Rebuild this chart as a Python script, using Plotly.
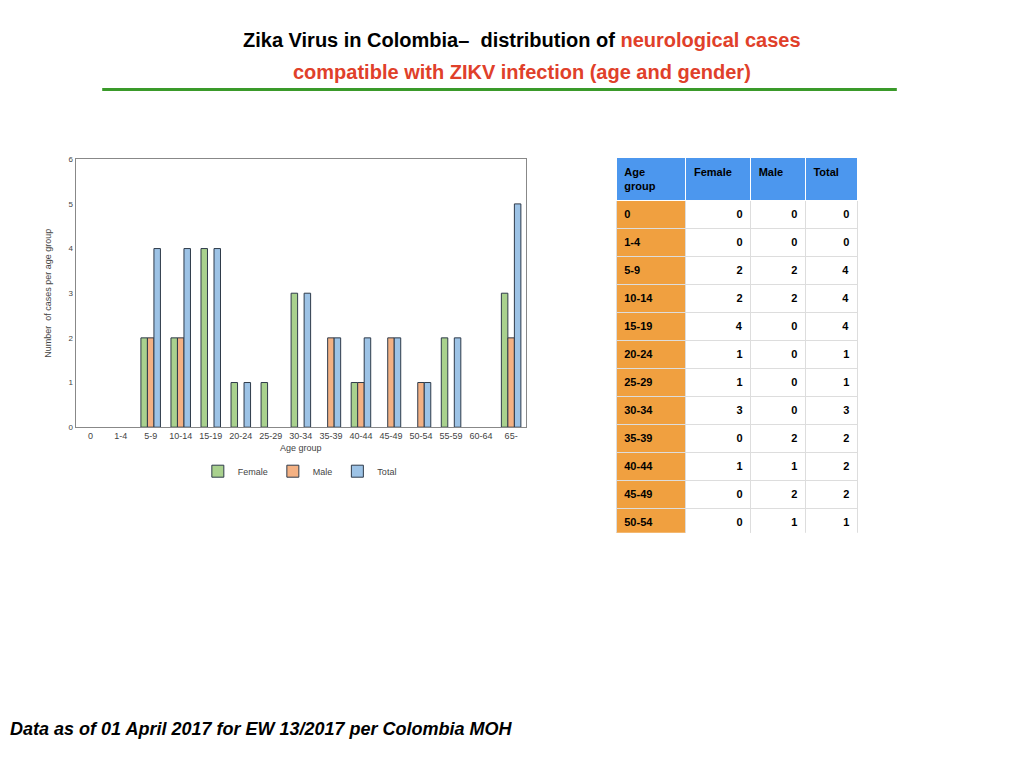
import plotly.graph_objects as go

age_groups = ["0", "1-4", "5-9", "10-14", "15-19", "20-24", "25-29", "30-34",
              "35-39", "40-44", "45-49", "50-54", "55-59", "60-64", "65-"]
female = [0, 0, 2, 2, 4, 1, 1, 3, 0, 1, 0, 0, 2, 0, 3]
male = [0, 0, 2, 2, 0, 0, 0, 0, 2, 1, 2, 1, 0, 0, 2]
total = [0, 0, 4, 4, 4, 1, 1, 3, 2, 2, 2, 1, 2, 0, 5]
# bars as drawn in the chart (no Total bar for 25-29)
chart_total = [0, 0, 4, 4, 4, 1, 0, 3, 2, 2, 2, 1, 2, 0, 5]
sum_female, sum_male, sum_total = 19, 12, 31


def nz(vals):
    # zero-height bars are not drawn in the reference
    return [v if v else None for v in vals]


fig = go.Figure()
line = dict(color="#2F3B4A", width=1)
fig.add_trace(go.Bar(x=age_groups, y=nz(female), name="Female",
                     marker=dict(color="#A9D18E", line=line)))
fig.add_trace(go.Bar(x=age_groups, y=nz(male), name="Male",
                     marker=dict(color="#F4B183", line=line)))
fig.add_trace(go.Bar(x=age_groups, y=nz(chart_total), name="Total",
                     marker=dict(color="#9DC3E6", line=line)))

n = len(age_groups)
red = "#E0402A"
b = lambda vals: ["<b>%s</b>" % v for v in vals]
fig.add_trace(go.Table(
    domain=dict(x=[0.594, 0.830], y=[0.313, 0.808]),
    columnwidth=[70, 65, 55, 52],
    header=dict(values=b(["Age group", "Female", "Male", "Total"]),
                fill_color="#4C97EE", line_color="white", align="left", height=22,
                font=dict(family="Liberation Sans", size=11, color="black")),
    cells=dict(values=[b(age_groups + ["Total"]),
                       b(female + [sum_female]), b(male + [sum_male]), b(total + [sum_total])],
               fill_color=[["#F0A040"] * (n + 1), ["white"] * (n + 1),
                           ["white"] * (n + 1), ["white"] * (n + 1)],
               line_color="#DDDDDD", align=["left", "right", "right", "right"], height=22,
               font=dict(family="Liberation Sans", size=11,
                         color=[["black"] * (n + 1)] + [["black"] * n + [red]] * 3)),
))

fig.update_layout(
    width=1024, height=768, margin=dict(l=0, r=0, t=0, b=0),
    paper_bgcolor="white", plot_bgcolor="white",
    barmode="group", bargap=0.35, bargroupgap=0,
    font=dict(family="Liberation Sans", size=9, color="#444"),
    xaxis=dict(domain=[0.066, 0.506], showline=True, linecolor="#888", mirror=True,
               title=dict(text="Age group", standoff=4, font=dict(size=9)),
               tickfont=dict(size=9)),
    yaxis=dict(domain=[0.453, 0.806], range=[0, 6], dtick=1, showgrid=False,
               showline=True, linecolor="#888", mirror=True, zeroline=False,
               title=dict(text="Number  of cases per age group", font=dict(size=9)),
               tickfont=dict(size=8)),
    legend=dict(orientation="h", x=0.285, xanchor="center", y=0.395, yanchor="middle",
                font=dict(size=9), itemwidth=30, tracegroupgap=0),
    annotations=[
        dict(text="<b>Zika Virus in Colombia–  distribution of <span style='color:#E0402A'>neurological cases</span></b>",
             x=0.502, y=0.963, yanchor="middle", xref="paper", yref="paper", showarrow=False,
             font=dict(size=20, color="black", family="Liberation Sans")),
        dict(text="<b>compatible with ZIKV infection (age and gender)</b>",
             x=0.502, y=0.921, yanchor="middle", xref="paper", yref="paper", showarrow=False,
             font=dict(size=20, color=red, family="Liberation Sans")),
        dict(text="<b><i>Data as of 01 April 2017 for EW 13/2017 per Colombia MOH</i></b>",
             x=0.0, xanchor="left", y=0.055, yanchor="middle", xref="paper", yref="paper",
             showarrow=False, font=dict(size=18, color="black", family="Liberation Sans")),
    ],
    shapes=[dict(type="line", xref="paper", yref="paper", x0=0.092, x1=0.868,
                 y0=0.898, y1=0.898, line=dict(color="#3A9A2A", width=3))],
)
fig.write_html("out.html")
